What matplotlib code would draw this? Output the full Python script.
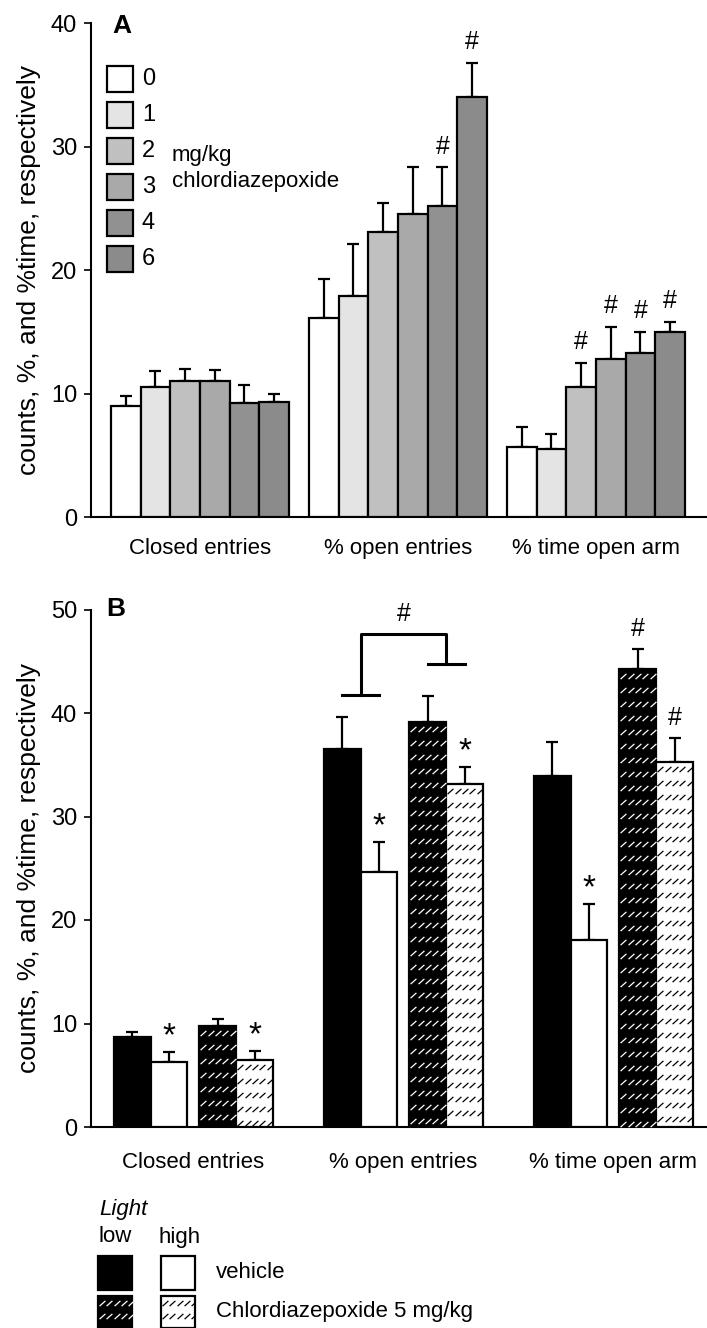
import numpy as np
import matplotlib
matplotlib.use("Agg")
import matplotlib.pyplot as plt
from matplotlib.patches import Rectangle
from matplotlib.path import Path

plt.rcParams['font.family'] = ['Liberation Sans', 'DejaVu Sans']

# --- data: panel A (dose response) ---
groups = ['Closed entries', '% open entries', '% time open arm']
doses = ['0', '1', '2', '3', '4', '6']
dose_colors = ['#ffffff', '#e4e4e4', '#c0c0c0', '#a9a9a9', '#919191', '#8b8b8b']
a_mean = [
    [9.0, 10.5, 11.0, 11.0, 9.25, 9.35],
    [16.1, 17.9, 23.1, 24.5, 25.2, 34.0],
    [5.7, 5.5, 10.5, 12.8, 13.3, 15.0],
]
a_sem = [
    [0.8, 1.3, 1.0, 0.9, 1.4, 0.6],
    [3.2, 4.2, 2.3, 3.8, 3.1, 2.8],
    [1.6, 1.2, 2.0, 2.6, 1.7, 0.8],
]
a_marks = [
    ['', '', '', '', '', ''],
    ['', '', '', '', '#', '#'],
    ['', '', '#', '#', '#', '#'],
]

# --- data: panel B (light x drug) ---
conds = ['low vehicle', 'high vehicle', 'low CDP', 'high CDP']
b_mean = [
    [8.7, 6.3, 9.75, 6.5],
    [36.5, 24.6, 39.1, 33.1],
    [33.9, 18.1, 44.25, 35.3],
]
b_sem = [
    [0.5, 0.9, 0.7, 0.8],
    [3.1, 2.9, 2.5, 1.7],
    [3.3, 3.4, 1.95, 2.3],
]
b_marks = [
    ['', '*', '', '*'],
    ['', '*', '', '*'],
    ['', '*', '#', '#'],
]
# bracket over % open entries: left foot, top, right foot
bracket_levels = [41.7, 47.6, 44.7]

W, H = 707, 1328
fig = plt.figure(figsize=(W / 100, H / 100), dpi=100)


def px_axes(left, top, right, bottom):
    return fig.add_axes([left / W, 1 - bottom / H, (right - left) / W, (bottom - top) / H])


def style_axes(ax, xpad):
    for s in ['top', 'right']:
        ax.spines[s].set_visible(False)
    for s in ['left', 'bottom']:
        ax.spines[s].set_linewidth(1.5)
    ax.tick_params(axis='y', direction='out', length=5, width=1.2, labelsize=17, pad=5)
    ax.tick_params(axis='x', length=0, labelsize=16, pad=xpad)
    ax.set_ylabel('counts, %, and %time, respectively', fontsize=19, labelpad=7)


dash_marker = Path([(-1, -0.9), (1, 0.9)], [Path.MOVETO, Path.LINETO])


def dash_fill(ax, patch, color, dx=7.4, dy=14.0):
    # sparse rows of short slanted dashes, clipped to the patch
    trans = ax.transData
    x0, y0 = patch.get_x(), patch.get_y()
    x1, y1 = x0 + patch.get_width(), y0 + patch.get_height()
    (ax0, ay0), (ax1, ay1) = trans.transform([(x0, y0), (x1, y1)])
    px0, px1 = min(ax0, ax1), max(ax0, ax1)
    pb, pt = min(ay0, ay1), max(ay0, ay1)
    gx = np.arange(px0 + dx / 2, px1, dx)
    gy = np.arange(pt - dy / 2, pb, -dy)
    if len(gx) == 0 or len(gy) == 0:
        return
    XX, YY = np.meshgrid(gx, gy)
    pts = trans.inverted().transform(np.column_stack([XX.ravel(), YY.ravel()]))
    ln, = ax.plot(pts[:, 0], pts[:, 1], ls='none', marker=dash_marker, ms=4.2,
                  mec=color, mew=0.9, zorder=patch.get_zorder() + 0.1)
    ln.set_clip_path(patch)


# ---------------- panel A ----------------
axA = px_axes(91, 23, 707, 517)
wA = 0.15
xA = np.arange(len(groups))
axA.set_xlim(-0.55, -0.55 + 616 / 198)
axA.set_ylim(0, 40)
for gi in range(len(groups)):
    for di in range(len(doses)):
        x = xA[gi] + (di - 2.5) * wA
        m, e = a_mean[gi][di], a_sem[gi][di]
        axA.bar(x, m, width=wA, color=dose_colors[di], edgecolor='black',
                linewidth=1.6, zorder=3)
        axA.errorbar(x, m, yerr=[[0], [e]], fmt='none', ecolor='black',
                     elinewidth=1.6, capsize=4, capthick=1.6, zorder=2)
        if a_marks[gi][di]:
            axA.annotate(a_marks[gi][di], (x, m + e), xytext=(0, 15),
                         textcoords='offset points', ha='center', va='center',
                         fontsize=18)
axA.set_xticks(xA)
axA.set_xticklabels(groups)
axA.set_yticks([0, 10, 20, 30, 40])
style_axes(axA, 15)

# ---------------- panel B ----------------
axB = px_axes(91, 609.5, 707, 1127)
wB, gB = 0.176, 0.057
offsB = [-gB / 2 - 1.5 * wB, -gB / 2 - 0.5 * wB, gB / 2 + 0.5 * wB, gB / 2 + 1.5 * wB]
colB = ['black', 'white', 'black', 'white']
hatchB = [False, False, True, True]
xB = np.arange(len(groups))
axB.set_xlim(-0.488, -0.488 + 616 / 210)
axB.set_ylim(0, 50)
for gi in range(len(groups)):
    for ci in range(len(conds)):
        x = xB[gi] + offsB[ci]
        m, e = b_mean[gi][ci], b_sem[gi][ci]
        bars = axB.bar(x, m, width=wB, color=colB[ci], edgecolor='black',
                       linewidth=1.6, zorder=3)
        if hatchB[ci]:
            dash_fill(axB, bars[0], 'white' if colB[ci] == 'black' else 'black')
        axB.errorbar(x, m, yerr=[[0], [e]], fmt='none', ecolor='black',
                     elinewidth=1.6, capsize=4.5, capthick=1.6, zorder=2)
        mk = b_marks[gi][ci]
        if mk:
            axB.annotate(mk, (x, m + e), xytext=(0, 14 if mk == '#' else 11),
                         textcoords='offset points', ha='center', va='center',
                         fontsize=18 if mk == '#' else 24)

# bracket: vehicle pair vs drug pair on % open entries
bl = xB[1] - gB / 2 - wB
br = xB[1] + gB / 2 + wB
axB.plot([bl - wB / 2, bl + wB / 2], [bracket_levels[0]] * 2, color='black', lw=2.2, clip_on=False)
axB.plot([br - wB / 2, br + wB / 2], [bracket_levels[2]] * 2, color='black', lw=2.2, clip_on=False)
axB.plot([bl, bl, br, br], [bracket_levels[0], bracket_levels[1], bracket_levels[1], bracket_levels[2]],
         color='black', lw=2.2, clip_on=False)
axB.text(xB[1], bracket_levels[1] + 2.0, '#', ha='center', va='center', fontsize=18)
axB.set_xticks(xB)
axB.set_xticklabels(groups)
axB.set_yticks([0, 10, 20, 30, 40, 50])
style_axes(axB, 18)

# ---------------- overlay: panel letters and legends ----------------
ov = fig.add_axes([0, 0, 1, 1], zorder=10)
ov.set_xlim(0, W)
ov.set_ylim(H, 0)
ov.axis('off')
ov.patch.set_alpha(0)

ov.text(112, 33, 'A', fontsize=19, fontweight='bold', va='baseline')
ov.text(106, 616, 'B', fontsize=19, fontweight='bold', va='baseline')

for di, d in enumerate(doses):
    yc = 79 + 36 * di
    ov.add_patch(Rectangle((107, yc - 13), 26, 26, facecolor=dose_colors[di],
                           edgecolor='black', lw=1.6))
    ov.text(142, yc, d, fontsize=17, va='center')
ov.text(172, 156, 'mg/kg', fontsize=16, va='center')
ov.text(172, 181, 'chlordiazepoxide', fontsize=16, va='center')

ov.text(99, 1210, 'Light', fontsize=16, style='italic', va='center')
ov.text(99, 1237, 'low', fontsize=16, va='center')
ov.text(158, 1237, 'high', fontsize=16, va='center')
leg_rows = [(1256, 34, 'vehicle', False), (1296, 32, 'Chlordiazepoxide 5 mg/kg', True)]
for top, h, lab, hat in leg_rows:
    for x0, fc in [(98, 'black'), (161, 'white')]:
        r = Rectangle((x0, top), 34, h, facecolor=fc, edgecolor='black', lw=1.6)
        ov.add_patch(r)
        if hat:
            dash_fill(ov, r, 'white' if fc == 'black' else 'black', dy=13.0)
    ov.text(216, top + h / 2, lab, fontsize=16, va='center')

fig.savefig('out.png', dpi=100)
